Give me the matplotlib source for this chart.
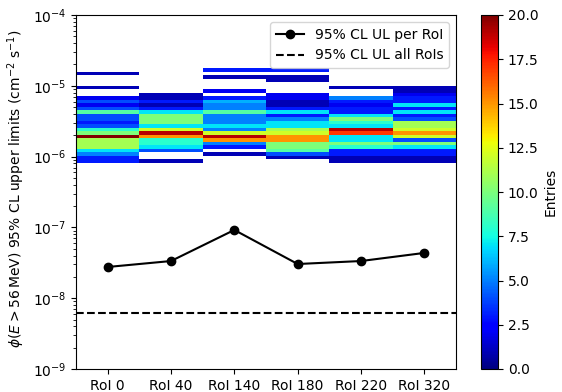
import numpy as np
import matplotlib
matplotlib.use("Agg")
import matplotlib.pyplot as plt

# regions of interest
rois = ["RoI 0", "RoI 40", "RoI 140", "RoI 180", "RoI 220", "RoI 320"]

# 95% CL upper limit per RoI and for all RoIs combined
ul_per_roi = [2.76e-8, 3.35e-8, 9.2e-8, 3.04e-8, 3.35e-8, 4.36e-8]
ul_all_rois = 6.2e-9

# histogram of per-sample upper limits, log bins from low to high flux
flux_lo, flux_hi, n_bins = 8.25e-7, 1.78e-5, 27
entries_roi0 = [3, 3, 5, 7, 11, 11, 11, 20, 10, 8, 4, 3, 4, 4, 9, 4, 2, 4, 2, 0, 0, 1, 0, 0, 0, 1, 0]
entries_roi40 = [1, 0, 0, 4, 7, 8, 8, 15, 19, 12, 7, 10, 10, 10, 7, 3, 1, 3, 1, 1, 0, 0, 0, 0, 0, 0, 0]
entries_roi140 = [0, 0, 1, 0, 3, 5, 15, 19, 12, 5, 7, 5, 5, 5, 9, 5, 5, 6, 3, 0, 2, 0, 0, 0, 1, 0, 3]
entries_roi180 = [0, 1, 4, 9, 10, 10, 15, 15, 12, 11, 7, 7, 5, 3, 7, 3, 1, 1, 2, 2, 0, 0, 0, 1, 1, 0, 3]
entries_roi220 = [1, 1, 3, 3, 8, 10, 7, 7, 17, 19, 7, 8, 10, 7, 3, 3, 2, 3, 5, 0, 0, 1, 0, 0, 0, 0, 0]
entries_roi320 = [1, 1, 3, 3, 7, 10, 4, 12, 15, 12, 11, 11, 4, 3, 7, 3, 7, 3, 3, 2, 1, 1, 0, 0, 0, 0, 0]

counts = np.array([entries_roi0, entries_roi40, entries_roi140,
                   entries_roi180, entries_roi220, entries_roi320]).T
counts = np.ma.masked_equal(counts, 0)

x = np.arange(len(rois))
x_edges = np.arange(len(rois) + 1) - 0.5
y_edges = np.logspace(np.log10(flux_lo), np.log10(flux_hi), n_bins + 1)

fig = plt.figure(figsize=(5.62, 3.92), dpi=100)
ax = fig.add_axes([76 / 562, 23 / 392, 380 / 562, 354 / 392])
cax = fig.add_axes([481 / 562, 23 / 392, 17 / 562, 354 / 392])

mesh = ax.pcolormesh(x_edges, y_edges, counts, cmap="jet", vmin=0, vmax=20)
ax.plot(x, ul_per_roi, color="black", marker="o", label="95% CL UL per RoI")
ax.axhline(ul_all_rois, color="black", linestyle="--", label="95% CL UL all RoIs")

ax.set_yscale("log")
ax.set_ylim(1e-9, 1e-4)
ax.set_xlim(-0.5, len(rois) - 0.5)
ax.set_xticks(x)
ax.set_xticklabels(rois)
ax.set_ylabel(r"$\phi(E > 56\,\mathrm{MeV})$ 95% CL upper limits (cm$^{-2}$ s$^{-1}$)")
ax.yaxis.label.set_y(0.51)
ax.legend(loc="upper right")

cbar = fig.colorbar(mesh, cax=cax)
cbar.set_label("Entries")

fig.savefig("out.png", dpi=100)
